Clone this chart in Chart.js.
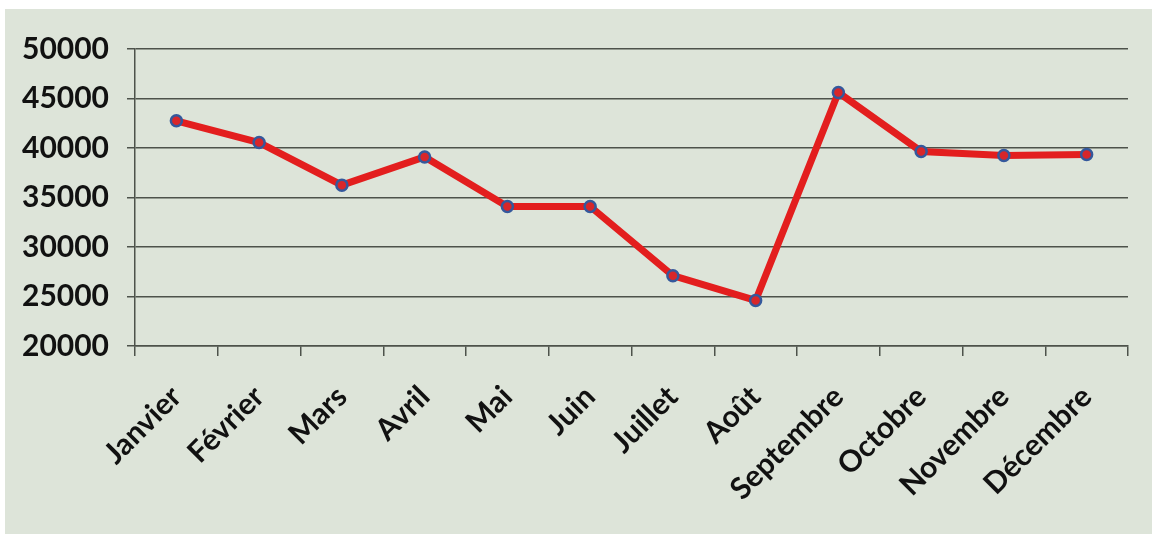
<!DOCTYPE html>
<html>
<head>
<meta charset="utf-8">
<script src="https://cdn.jsdelivr.net/npm/chart.js@4"></script>
<style>
html,body{margin:0;padding:0;background:#ffffff;}
#wrap{position:absolute;left:5px;top:9px;width:1147px;height:525px;background:#dde4d9;}
</style>
</head>
<body>
<div id="wrap"><canvas id="c"></canvas></div>
<script>
const months = ["Janvier","Février","Mars","Avril","Mai","Juin","Juillet","Août","Septembre","Octobre","Novembre","Décembre"];
const values = [42750, 40550, 36250, 39100, 34100, 34100, 27100, 24600, 45600, 39650, 39250, 39350];
const yMin = 20000, yMax = 50000, yStep = 5000;

const gridColor = '#4d524b';
new Chart(document.getElementById('c'), {
  type: 'line',
  data: {
    labels: months,
    datasets: [{
      data: values,
      borderColor: '#e31e1e',
      borderWidth: 7,
      pointRadius: 5.5,
      pointBorderWidth: 2.5,
      pointBorderColor: '#34589c',
      pointBackgroundColor: '#d8262a',
      tension: 0
    }]
  },
  options: {
    responsive: true,
    maintainAspectRatio: false,
    animation: false,
    layout: { padding: { left: 0, right: 24, top: 40, bottom: 0 } },
    plugins: { legend: { display: false }, tooltip: { enabled: false } },
    scales: {
      x: {
        offset: true,
        grid: { offset: true, drawOnChartArea: false, drawTicks: true, tickLength: 10, color: gridColor, lineWidth: 1.5 },
        border: { display: true, color: gridColor, width: 1.5 },
        ticks: {
          color: '#111111',
          font: { family: 'Lato', weight: 'bold', size: 30 },
          maxRotation: 45, minRotation: 45, padding: 23, autoSkip: false
        },
        afterFit: s => { s.height = 188; }
      },
      y: {
        min: yMin, max: yMax,
        grid: { color: gridColor, lineWidth: 1.5, tickLength: 8 },
        border: { display: true, color: gridColor, width: 1.5 },
        ticks: {
          stepSize: yStep,
          color: '#111111',
          font: { family: 'Lato', weight: 'bold', size: 30 },
          padding: 18,
          callback: v => String(v)
        },
        afterFit: s => { s.width = 130; }
      }
    }
  }
});
</script>
</body>
</html>
